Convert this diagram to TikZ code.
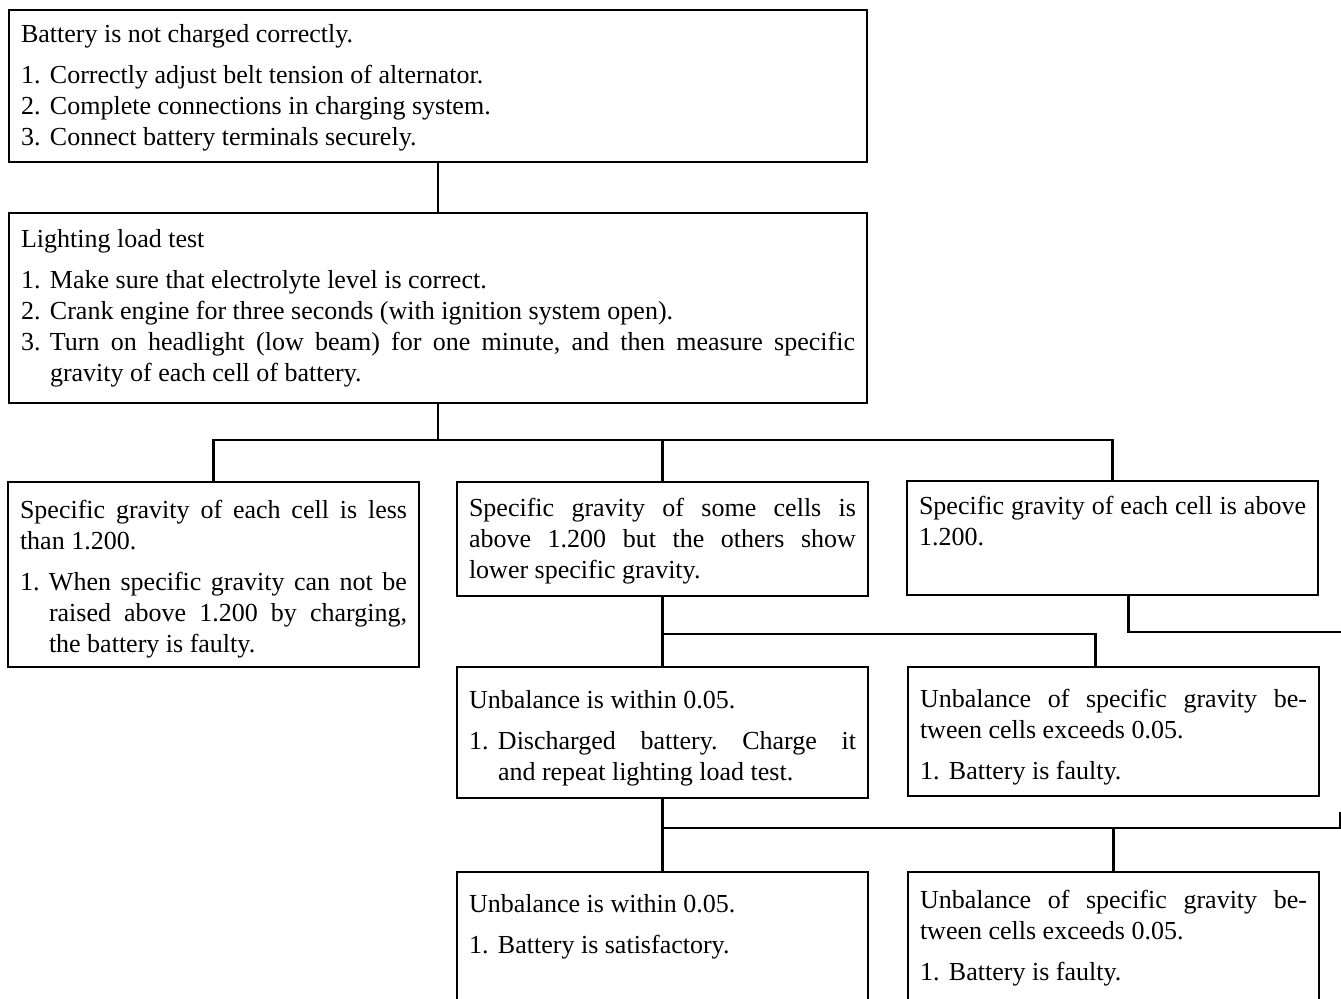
\documentclass[tikz,border=0pt]{standalone}
\usepackage{fontspec}
\setmainfont{Liberation Serif}
\usepackage{tikz}
\usetikzlibrary{calc}
\tolerance=10000
\hbadness=10000
\hyphenpenalty=10000
\frenchspacing
\newcommand{\itm}[1]{\par\hangindent=14.5pt\hangafter=1\noindent\makebox[14.5pt][l]{#1}\ignorespaces}
\newcommand{\listgap}{\par\vspace{5pt}}
\tikzset{
    card/.style = {draw, rectangle, anchor=north west,
        outer sep=0pt, inner xsep=6pt, inner ysep=0pt,
        align=justify, line width=1.4pt,
        font=\fontsize{13}{15.5}\selectfont\frenchspacing},
    wide/.style = {card, text width=417pt},
    narrow/.style = {card, text width=193.5pt},
    link/.style = {draw, line width=1.4pt}
}

\begin{document}
\begin{tikzpicture}[x=0.5pt,y=-0.5pt]
            \clip (0,0) rectangle (1341,998);
            \node[wide, text height=16pt, text depth=60pt] (fault) at (9,10) {Battery is not charged correctly.\listgap
                \itm{1.}Correctly adjust belt tension of alternator.
                \itm{2.}Complete connections in charging system.
                \itm{3.}Connect battery terminals securely.\par};
            \node[wide, text height=17pt, text depth=78pt] (test) at (9,213) {Lighting load test\listgap
                \itm{1.}Make sure that electrolyte level is correct.
                \itm{2.}Crank engine for three seconds (with ignition system open).
                \itm{3.}Turn on headlight (low beam) for one minute, and then measure specific\linebreak gravity of each cell of battery.\par};
            \node[narrow, text height=18pt, text depth=74.5pt] (low) at (8,482) {Specific gravity of each cell is less\linebreak than 1.200.\listgap
                \itm{1.}When specific gravity can not be\linebreak raised above 1.200 by charging,\linebreak the battery is faulty.\par};
            \node[narrow, text height=17pt, text depth=40pt] (some) at (457,482) {Specific gravity of some cells is\linebreak above 1.200 but the others show\linebreak lower specific gravity.\par};
            \node[narrow, text height=16.5pt, text depth=40.5pt] (above) at (907,481) {Specific gravity of each cell is above\linebreak 1.200.\par};
            \node[narrow, text height=20.5pt, text depth=45pt] (within1) at (457,667) {Unbalance is within 0.05.\listgap
                \itm{1.}Discharged battery. Charge it\linebreak and repeat lighting load test.\par};
            \node[narrow, text height=20pt, text depth=44.5pt] (exceed1) at (908,667) {Unbalance of specific gravity be-\linebreak tween cells exceeds 0.05.\listgap
                \itm{1.}Battery is faulty.\par};
            \node[narrow, text height=20pt, text depth=80pt] (within2) at (457,872) {Unbalance is within 0.05.\listgap
                \itm{1.}Battery is satisfactory.\par};
            \node[narrow, text height=18pt, text depth=80pt] (exceed2) at (908,872) {Unbalance of specific gravity be-\linebreak tween cells exceeds 0.05.\listgap
                \itm{1.}Battery is faulty.\par};
            \coordinate (bus1) at ($(test.south)+(0,37)$);
            \coordinate (bus2) at ($(some.south)+(0,38)$);
            \coordinate (bus3) at ($(within1.south)+(0,30)$);
            \coordinate (exit) at (1360,632);
            \coordinate (entry) at (1340,812);
            \draw[link] (fault.south) -- (test.north);
            \draw[link] (test.south) -- (bus1) -| (low.north);
            \draw[link] (bus1) -| (some.north);
            \draw[link] (bus1) -| (above.north);
            \draw[link] (some.south) -- (within1.north);
            \draw[link] (bus2) -| ([xshift=-9pt]exceed1.north);
            \draw[link] ([xshift=8pt]above.south) |- (exit);
            \draw[link] (within1.south) -- (within2.north);
            \draw[link] (entry) |- (bus3);
            \draw[link] (exceed2.north) -- (exceed2.north |- bus3);
        \end{tikzpicture}
\end{document}
